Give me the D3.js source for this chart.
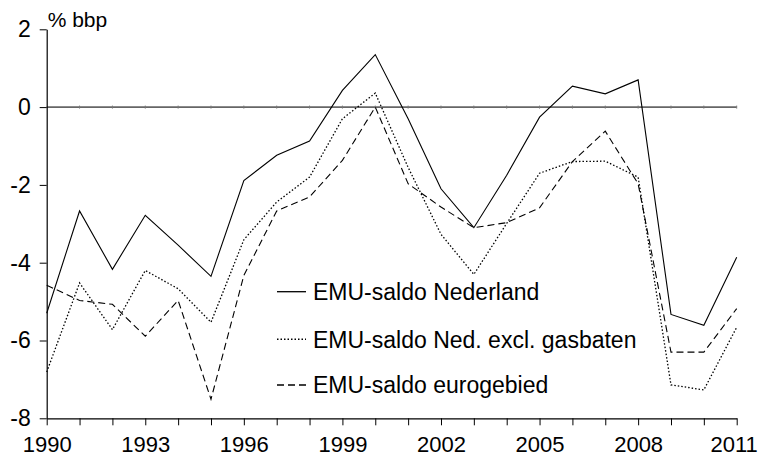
<!DOCTYPE html>
<html>
<head>
<meta charset="utf-8">
<script src="https://cdn.jsdelivr.net/npm/d3@7"></script>
<style>
  html, body { margin: 0; padding: 0; background: #fff; }
  svg { display: block; font-family: "Liberation Sans", Arial, Helvetica, sans-serif; }
</style>
</head>
<body>
<svg id="chart" width="760" height="458"></svg>
<script>
// Begrotingssaldo (EMU-saldo), % bbp, 1990-2011
const years = d3.range(1990, 2012);

const emuNederland = [
  -5.3, -2.67, -4.17, -2.78, -3.55, -4.35, -1.89, -1.24, -0.87, 0.43, 1.35,
  -0.3, -2.1, -3.1, -1.75, -0.26, 0.54, 0.34, 0.70, -5.33, -5.61, -3.86
];
const emuExclGas = [
  -6.81, -4.52, -5.72, -4.2, -4.67, -5.53, -3.41, -2.44, -1.8, -0.3, 0.36,
  -1.55, -3.27, -4.3, -2.99, -1.7, -1.4, -1.39, -1.8, -7.14, -7.27, -5.66
];
const emuEurogebied = [
  -4.58, -4.97, -5.07, -5.89, -4.97, -7.51, -4.33, -2.67, -2.31, -1.37, 0.0,
  -1.97, -2.57, -3.1, -2.97, -2.59, -1.4, -0.62, -1.97, -6.3, -6.3, -5.18
];

const seriesNames = [
  "EMU-saldo Nederland",
  "EMU-saldo Ned. excl. gasbaten",
  "EMU-saldo eurogebied"
];

const yTicks = [2, 0, -2, -4, -6, -8];
const xLabelYears = [1990, 1993, 1996, 1999, 2002, 2005, 2008, 2011];
const unitLabel = "% bbp";

const series = [
  { name: seriesNames[0], values: emuNederland, dash: null },
  { name: seriesNames[1], values: emuExclGas, dash: "1.5,2" },
  { name: seriesNames[2], values: emuEurogebied, dash: "7,4" }
];

const svg = d3.select("#chart");
const plotL = 46.7, plotR = 736.7, plotT = 29.3, plotB = 418.3;

const x = d3.scaleLinear().domain([1990, 2011]).range([plotL, plotR]);
const y = d3.scaleLinear().domain([-8, 2]).range([plotB, plotT]);

// zero line
svg.append("line")
  .attr("x1", x(1990)).attr("x2", x(2011))
  .attr("y1", y(0)).attr("y2", y(0))
  .attr("stroke", "#666").attr("stroke-width", 1.6);

// small year marks on the zero line
svg.append("g").selectAll("line").data(years.slice(1)).join("line")
  .attr("x1", d => x(d)).attr("x2", d => x(d))
  .attr("y1", y(0) - 1.5).attr("y2", y(0) + 1.5)
  .attr("stroke", "#777").attr("stroke-width", 1);

// y axis
const yAxis = svg.append("g")
  .attr("transform", `translate(${plotL},0)`)
  .call(d3.axisLeft(y).tickValues(yTicks).tickSize(7).tickSizeOuter(0).tickPadding(9)
    .tickFormat(d => String(d)));
yAxis.select(".domain").attr("stroke", "#000").attr("stroke-width", 1.2);
yAxis.selectAll(".tick line").attr("stroke", "#000").attr("stroke-width", 1);
yAxis.selectAll(".tick text")
  .attr("font-size", 23).attr("fill", "#000")
  .attr("font-family", "\"Liberation Sans\", Arial, sans-serif");

// x axis
const xAxis = svg.append("g")
  .attr("transform", `translate(0,${plotB})`)
  .call(d3.axisBottom(x).tickValues(years).tickSize(7).tickSizeOuter(0).tickPadding(11)
    .tickFormat(d => xLabelYears.includes(d) ? String(d) : ""));
xAxis.select(".domain").attr("stroke", "#000").attr("stroke-width", 1.2);
xAxis.selectAll(".tick line").attr("stroke", "#000").attr("stroke-width", 1);
xAxis.selectAll(".tick text")
  .attr("font-size", 22).attr("fill", "#000")
  .attr("font-family", "\"Liberation Sans\", Arial, sans-serif")
  .attr("dx", d => d === 2011 ? -3 : 0);

// unit label
svg.append("text")
  .attr("x", plotL + 1).attr("y", 27)
  .attr("font-size", 21).attr("fill", "#000")
  .text(unitLabel);

// series lines
const line = d3.line().x((d, i) => x(years[i])).y(d => y(d));
svg.append("g").selectAll("path").data(series).join("path")
  .attr("d", d => line(d.values))
  .attr("fill", "none")
  .attr("stroke", "#000")
  .attr("stroke-width", d => d.dash === "1.5,2" ? 1.3 : 1.1)
  .attr("stroke-dasharray", d => d.dash);

// legend
const legendY = [291.7, 339.3, 385];
const lg = svg.append("g").selectAll("g").data(series).join("g")
  .attr("transform", (d, i) => `translate(277,${legendY[i]})`);
lg.append("line")
  .attr("x1", 0).attr("x2", 29).attr("y1", 0).attr("y2", 0)
  .attr("stroke", "#000")
  .attr("stroke-width", d => d.dash === "1.5,2" ? 1.5 : 1.3)
  .attr("stroke-dasharray", d => d.dash);
lg.append("text")
  .attr("x", 36).attr("y", 0).attr("dy", "0.36em")
  .attr("font-size", 23).attr("fill", "#000")
  .text(d => d.name);
</script>
</body>
</html>
